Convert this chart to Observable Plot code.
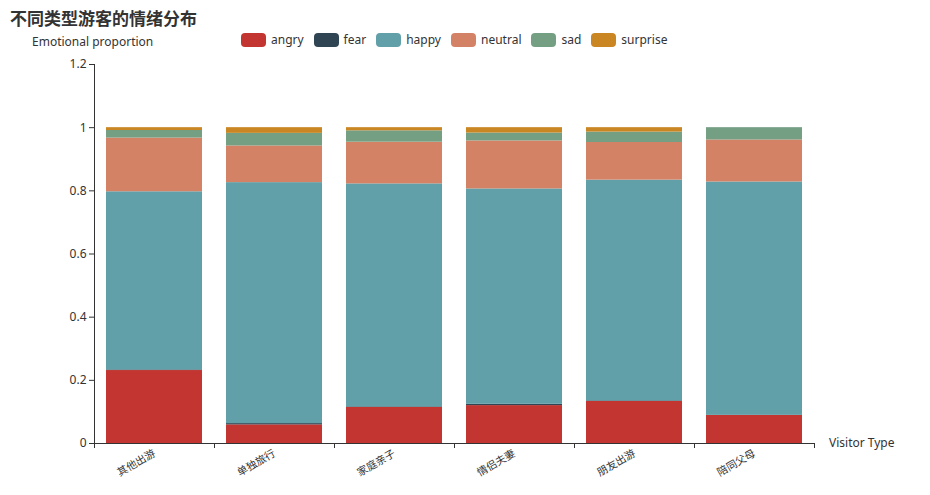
<!DOCTYPE html>
<html>
<head>
<meta charset="utf-8">
<script src="https://cdn.jsdelivr.net/npm/d3@7"></script>
<script src="https://cdn.jsdelivr.net/npm/@observablehq/plot@0.6"></script>
<style>
  body { margin: 0; background: #fff; font-family: "Noto Sans CJK SC", "Noto Sans", sans-serif; color: #333; }
  #wrap { position: relative; width: 930px; height: 495px; overflow: hidden; }
  #title { position: absolute; left: 10px; top: 5px; font-size: 17px; font-weight: bold; color: #333; }
  #ylabel { position: absolute; left: 32px; top: 33px; font-size: 12px; color: #333; font-family: "Noto Sans", sans-serif; }
  #xlabel { position: absolute; left: 829px; top: 434px; font-size: 12px; color: #333; font-family: "Noto Sans", sans-serif; }
  #legend { position: absolute; left: 241px; top: 31px; display: flex; gap: 10px; font-size: 12px; font-family: "Noto Sans", sans-serif; }
  .item { display: flex; align-items: center; }
  .sw { width: 25px; height: 14px; border-radius: 4px; margin-right: 5px; }
  #chart { position: absolute; left: 0; top: 50px; }
</style>
</head>
<body>
<div id="wrap">
  <div id="title">不同类型游客的情绪分布</div>
  <div id="ylabel">Emotional proportion</div>
  <div id="legend"></div>
  <div id="chart"></div>
  <div id="xlabel">Visitor Type</div>
</div>
<script>
const categories = ["其他出游", "单独旅行", "家庭亲子", "情侣夫妻", "朋友出游", "陪同父母"];
const emotions = ["angry", "fear", "happy", "neutral", "sad", "surprise"];
const colors = ["#c23531", "#2f4554", "#61a0a8", "#d48265", "#749f83", "#ca8622"];
const angry    = [0.231, 0.059, 0.114, 0.120, 0.133, 0.089];
const fear     = [0.002, 0.004, 0.002, 0.004, 0.002, 0.000];
const happy    = [0.564, 0.763, 0.706, 0.682, 0.699, 0.739];
const neutral  = [0.170, 0.116, 0.132, 0.152, 0.119, 0.133];
const sad      = [0.024, 0.040, 0.036, 0.025, 0.033, 0.039];
const surprise = [0.009, 0.018, 0.010, 0.017, 0.014, 0.000];
const yTicks = [0, 0.2, 0.4, 0.6, 0.8, 1, 1.2];

const series = {angry, fear, happy, neutral, sad, surprise};
const data = [];
emotions.forEach(e => categories.forEach((c, i) => data.push({type: c, emotion: e, value: series[e][i]})));

const legend = document.getElementById("legend");
emotions.forEach((e, i) => {
  const it = document.createElement("div");
  it.className = "item";
  it.innerHTML = `<span class="sw" style="background:${colors[i]}"></span><span>${e}</span>`;
  legend.appendChild(it);
});

const chart = Plot.plot({
  width: 930,
  height: 445,
  marginTop: 14,
  marginBottom: 52,
  marginLeft: 94,
  marginRight: 116,
  style: {fontSize: "12px", color: "#333", fontFamily: "'Noto Sans', 'Noto Sans CJK SC', sans-serif"},
  x: {domain: categories, paddingInner: 0.2, paddingOuter: 0.1, label: null},
  y: {domain: [0, 1.2], label: null},
  color: {domain: emotions, range: colors},
  marks: [
    Plot.barY(data, {x: "type", y: "value", fill: "emotion", order: emotions}),
    Plot.axisY({ticks: yTicks, tickFormat: d => String(d), tickSize: 5, tickPadding: 3, label: null, fontSize: 12}),
    Plot.frame({anchor: "left", stroke: "#333"}),
    Plot.ruleY([0], {stroke: "#333"}),
    Plot.axisX({tickSize: 0, tickRotate: -30, tickPadding: 9, fontSize: 10.5, label: null, fill: "#333"}),
    Plot.axisX({tickSize: 5, dx: -60, text: null, label: null, stroke: "#333"}),
    Plot.axisX({ticks: [categories[categories.length - 1]], tickSize: 5, dx: 60, text: null, label: null, stroke: "#333"})
  ]
});
document.getElementById("chart").appendChild(chart);
</script>
</body>
</html>
